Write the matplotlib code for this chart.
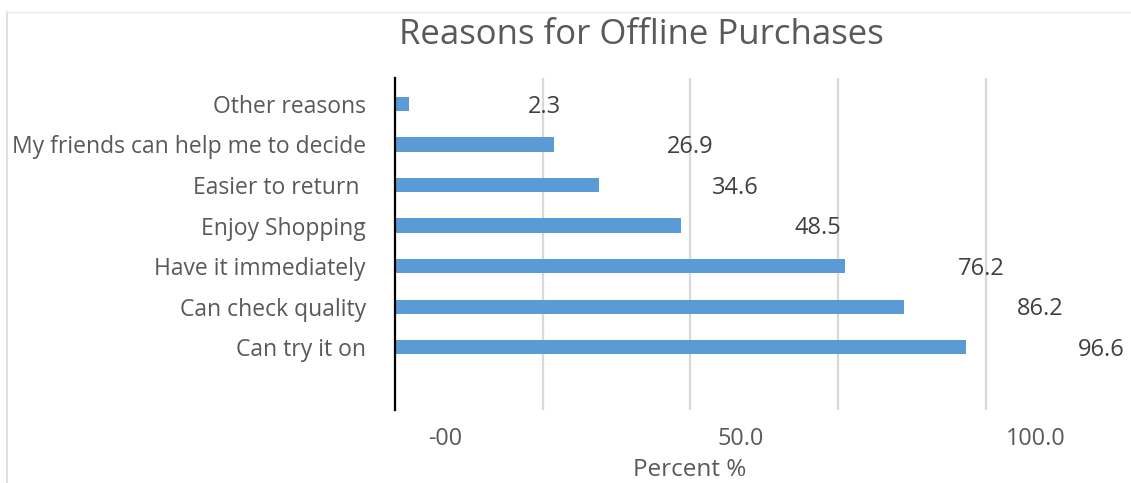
import matplotlib
matplotlib.use("Agg")
import matplotlib.pyplot as plt
from matplotlib.lines import Line2D
from matplotlib.transforms import ScaledTranslation

reasons = [
    "Can try it on",
    "Can check quality",
    "Have it immediately",
    "Enjoy Shopping",
    "Easier to return ",
    "My friends can help me to decide",
    "Other reasons",
]
percent = [96.6, 86.2, 76.2, 48.5, 34.6, 26.9, 2.3]
tick_values = [0, 50, 100]
tick_labels = ["-00", "50.0", "100.0"]
grid_values = [25, 50, 75, 100]

plt.rcParams["font.family"] = ["Open Sans", "DejaVu Sans"]
TEXT = "#595959"

fig = plt.figure(figsize=(11.31, 4.83), dpi=100)
ax = fig.add_axes([395 / 1131, 1 - 410 / 483, 697 / 1131, 332 / 483])

pos = list(range(len(reasons)))
ax.barh(pos, percent, height=0.35, color="#5B9BD5", zorder=2)
for v in grid_values:
    ax.axvline(v, color="#d9d9d9", lw=1.6, zorder=1)

# data labels sit well to the right of each bar end
for y, v in zip(pos, percent):
    ax.annotate(f"{v:.1f}", (v, y), xytext=(98, -2), textcoords="offset points",
                ha="center", va="center", fontsize=17, color="#404040")

ax.set_xlim(0, 118)
ax.set_ylim(-1.55, 6.64)
ax.set_yticks(pos)
ax.set_yticklabels(reasons, fontsize=16.5, color=TEXT)
ax.set_xticks(tick_values)
ax.set_xticklabels(tick_labels, fontsize=16.8, color=TEXT)
ax.tick_params(length=0)
ax.tick_params(axis="y", pad=21)
ax.tick_params(axis="x", pad=12)
shift = ScaledTranslation(50 / 100, 0, fig.dpi_scale_trans)
for lbl in ax.get_xticklabels():
    lbl.set_transform(lbl.get_transform() + shift)

for side in ["top", "right", "bottom"]:
    ax.spines[side].set_visible(False)
ax.spines["left"].set_color("black")
ax.spines["left"].set_linewidth(1.6)
ax.spines["left"].set_zorder(3)

fig.text(641 / 1131, 1 - 35 / 483, "Reasons for Offline Purchases",
         ha="center", va="center", fontsize=25, color=TEXT)
fig.text(690 / 1131, 1 - 470 / 483, "Percent %",
         ha="center", va="center", fontsize=17.5, color=TEXT)

# chart area frame (left and top edges)
fig.add_artist(Line2D([7 / 1131, 7 / 1131], [0, 1 - 12 / 483],
                      color="#d9d9d9", lw=1.2, transform=fig.transFigure))
fig.add_artist(Line2D([7 / 1131, 1], [1 - 12 / 483, 1 - 12 / 483],
                      color="#ececec", lw=1.0, transform=fig.transFigure))

fig.savefig("out.png", dpi=100)
